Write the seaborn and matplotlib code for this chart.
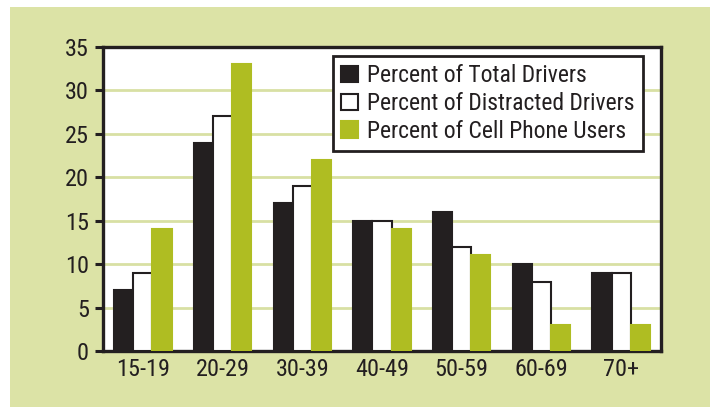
import pandas as pd
import matplotlib.pyplot as plt
import seaborn as sns
from matplotlib.patches import Rectangle, Patch

# data
age_groups = ['15-19', '20-29', '30-39', '40-49', '50-59', '60-69', '70+']
total_drivers = [7, 24, 17, 15, 16, 10, 9]
distracted_drivers = [9, 27, 19, 15, 12, 8, 9]
cell_phone_users = [14, 33, 22, 14, 11, 3, 3]
series_names = ['Percent of Total Drivers', 'Percent of Distracted Drivers',
                'Percent of Cell Phone Users']

df = pd.DataFrame({
    'age': age_groups * 3,
    'series': [series_names[0]] * 7 + [series_names[1]] * 7 + [series_names[2]] * 7,
    'value': total_drivers + distracted_drivers + cell_phone_users,
})

bg = '#dce3a6'
dark = '#231f20'
green = '#afbd22'
grid_col = '#d8e0a4'
face_cols = [dark, 'white', green]
edge_cols = [dark, dark, green]

sns.set_style('white')
plt.rcParams['font.family'] = ['Roboto Condensed', 'Roboto', 'DejaVu Sans']

fig = plt.figure(figsize=(7.1, 4.07), dpi=100)
fig.patches.append(Rectangle((10 / 710, 0), 1, 1 - 7 / 407, transform=fig.transFigure,
                             facecolor=bg, edgecolor='none', zorder=-10))
ax = fig.add_axes([103 / 710, 56 / 407, 558 / 710, 304 / 407])
ax.set_facecolor('white')

sns.barplot(data=df, x='age', y='value', hue='series', order=age_groups,
            hue_order=series_names, palette=face_cols, width=0.72, gap=0,
            ax=ax, zorder=3, legend=False)

# colour the bars per series
for i, cont in enumerate(ax.containers):
    for bar in cont:
        bar.set_facecolor(face_cols[i])
        bar.set_edgecolor(edge_cols[i])
        bar.set_linewidth(1.5)

ax.set_ylim(0, 35)
ax.set_yticks(range(0, 36, 5))
ax.yaxis.grid(True, color=grid_col, linewidth=2, zorder=0)
ax.set_axisbelow(True)
ax.set_xlabel('')
ax.set_ylabel('')

for s in ax.spines.values():
    s.set_color(dark)
    s.set_linewidth(2.4)
    s.set_visible(True)

ax.tick_params(axis='y', length=6, width=2.2, color=dark, labelsize=17.5,
               labelcolor=dark, pad=4, left=True)
ax.tick_params(axis='x', length=0, labelsize=17.5, labelcolor=dark, pad=5)

handles = [Patch(facecolor=face_cols[i], edgecolor=edge_cols[i], linewidth=1.5)
           for i in range(3)]
leg = ax.legend(handles, series_names, loc='upper right', bbox_to_anchor=(0.968, 0.97),
                fontsize=17, frameon=True, fancybox=False, framealpha=1,
                handlelength=0.7, handleheight=0.7, handletextpad=0.4,
                borderpad=0.35, labelspacing=0.2, borderaxespad=0)
leg.get_frame().set_edgecolor(dark)
leg.get_frame().set_linewidth(2)
for t in leg.get_texts():
    t.set_color(dark)

fig.savefig('out.png', dpi=100)
